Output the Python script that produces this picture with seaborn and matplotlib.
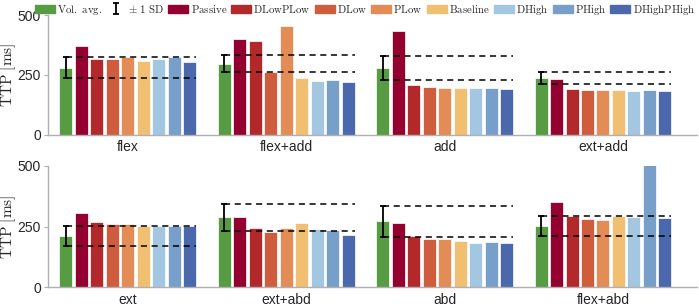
import numpy as np
import pandas as pd
import matplotlib
matplotlib.use('Agg')
import matplotlib.pyplot as plt
import seaborn as sns

# conditions (hue) and colours
conditions = ['Vol. avg.', 'Passive', 'DLowPLow', 'DLow', 'PLow', 'Baseline',
              'DHigh', 'PHigh', 'DHighPHigh']
colors = ['#579b42', '#940030', '#b3292b', '#d05c3e', '#e48c56', '#f0bf72',
          '#a3c7e0', '#789fca', '#4b68ad']

# top row
groups_top = ['flex', 'flex+add', 'add', 'ext+add']
flex = [281, 372, 315, 315, 324, 310, 318, 325, 306]
flex_add = [297, 400, 393, 263, 456, 239, 225, 228, 219]
add = [279, 435, 207, 201, 197, 197, 194, 196, 193]
ext_add = [236, 232, 190, 189, 188, 188, 185, 188, 185]
sd_top = [45, 35, 51, 25]

# bottom row
groups_bot = ['ext', 'ext+abd', 'abd', 'flex+abd']
ext = [211, 304, 270, 260, 259, 253, 252, 253, 251]
ext_abd = [288, 289, 242, 229, 242, 266, 238, 236, 215]
abd = [271, 263, 210, 199, 200, 190, 184, 185, 182]
flex_abd = [252, 351, 293, 281, 278, 293, 290, 501, 285]
sd_bot = [40, 56, 63, 42]


def make_df(groups, rows):
    recs = []
    for g, vals in zip(groups, rows):
        for c, v in zip(conditions, vals):
            recs.append({'group': g, 'cond': c, 'ttp': v})
    return pd.DataFrame(recs)


df_top = make_df(groups_top, [flex, flex_add, add, ext_add])
df_bot = make_df(groups_bot, [ext, ext_abd, abd, flex_abd])

sns.set_style('white')
plt.rcParams['font.family'] = ['Liberation Sans', 'DejaVu Sans']
plt.rcParams['mathtext.fontset'] = 'cm'

fig = plt.figure(figsize=(6.99, 3.08), dpi=100)
ax1 = fig.add_axes([0.0687, 0.562, 0.9283, 0.389])
ax2 = fig.add_axes([0.0687, 0.067, 0.9283, 0.395])

eb_handle = None
for ax, df, groups, sds in [(ax1, df_top, groups_top, sd_top),
                            (ax2, df_bot, groups_bot, sd_bot)]:
    sns.barplot(data=df, x='group', y='ttp', hue='cond', hue_order=conditions,
                palette=colors, saturation=1, width=0.88, gap=0.16,
                errorbar=None, edgecolor='white', linewidth=0.5,
                legend=False, ax=ax)
    vol = ax.containers[0]
    last = ax.containers[-1]
    means = df[df['cond'] == 'Vol. avg.']['ttp'].values
    xs = [b.get_x() + b.get_width() / 2 for b in vol]
    eb = ax.errorbar(xs, means, yerr=sds, fmt='none', ecolor='black',
                     elinewidth=1.3, capsize=2.5, capthick=1.3, zorder=5)
    if eb_handle is None:
        eb_handle = eb
    for x0, b, m, s in zip(xs, last, means, sds):
        x1 = b.get_x() + b.get_width()
        for yy in (m - s, m + s):
            ax.hlines(yy, x0, x1, colors='black', linestyles=(0, (4, 3)),
                      linewidth=1.1, zorder=4)

    ax.set_xlim(-0.504, 3.593)
    ax.set_ylim(0, 500)
    ax.set_yticks([0, 250, 500])
    ax.set_xlabel('')
    ax.set_ylabel(r'$\mathrm{TTP\ [ms]}$', fontsize=11)
    ax.yaxis.set_label_coords(-0.046, 0.5)
    ax.tick_params(axis='y', length=3, color='#b0b0b0', labelsize=10, pad=2,
                   left=True)
    ax.tick_params(axis='x', length=0, labelsize=10, pad=4)
    sns.despine(ax=ax)
    for sp in ['left', 'bottom']:
        ax.spines[sp].set_color('#b0b0b0')
        ax.spines[sp].set_linewidth(1.0)

# legend
handles = [plt.Rectangle((0, 0), 1, 1, color=colors[0]), eb_handle]
labels = [r'$\mathrm{Vol.\ avg.}$', r'$\pm\ 1\ \mathrm{SD}$']
for c, col in zip(conditions[1:], colors[1:]):
    handles.append(plt.Rectangle((0, 0), 1, 1, color=col))
    labels.append(r'$\mathrm{' + c + '}$')
fig.legend(handles, labels, loc='upper center', bbox_to_anchor=(0.522, 1.012),
           ncol=11, frameon=False, fontsize=7.8, handlelength=1.85,
           handleheight=0.8, handletextpad=0.2, columnspacing=0.38,
           borderpad=0.1)

fig.savefig('out.png', dpi=100)
